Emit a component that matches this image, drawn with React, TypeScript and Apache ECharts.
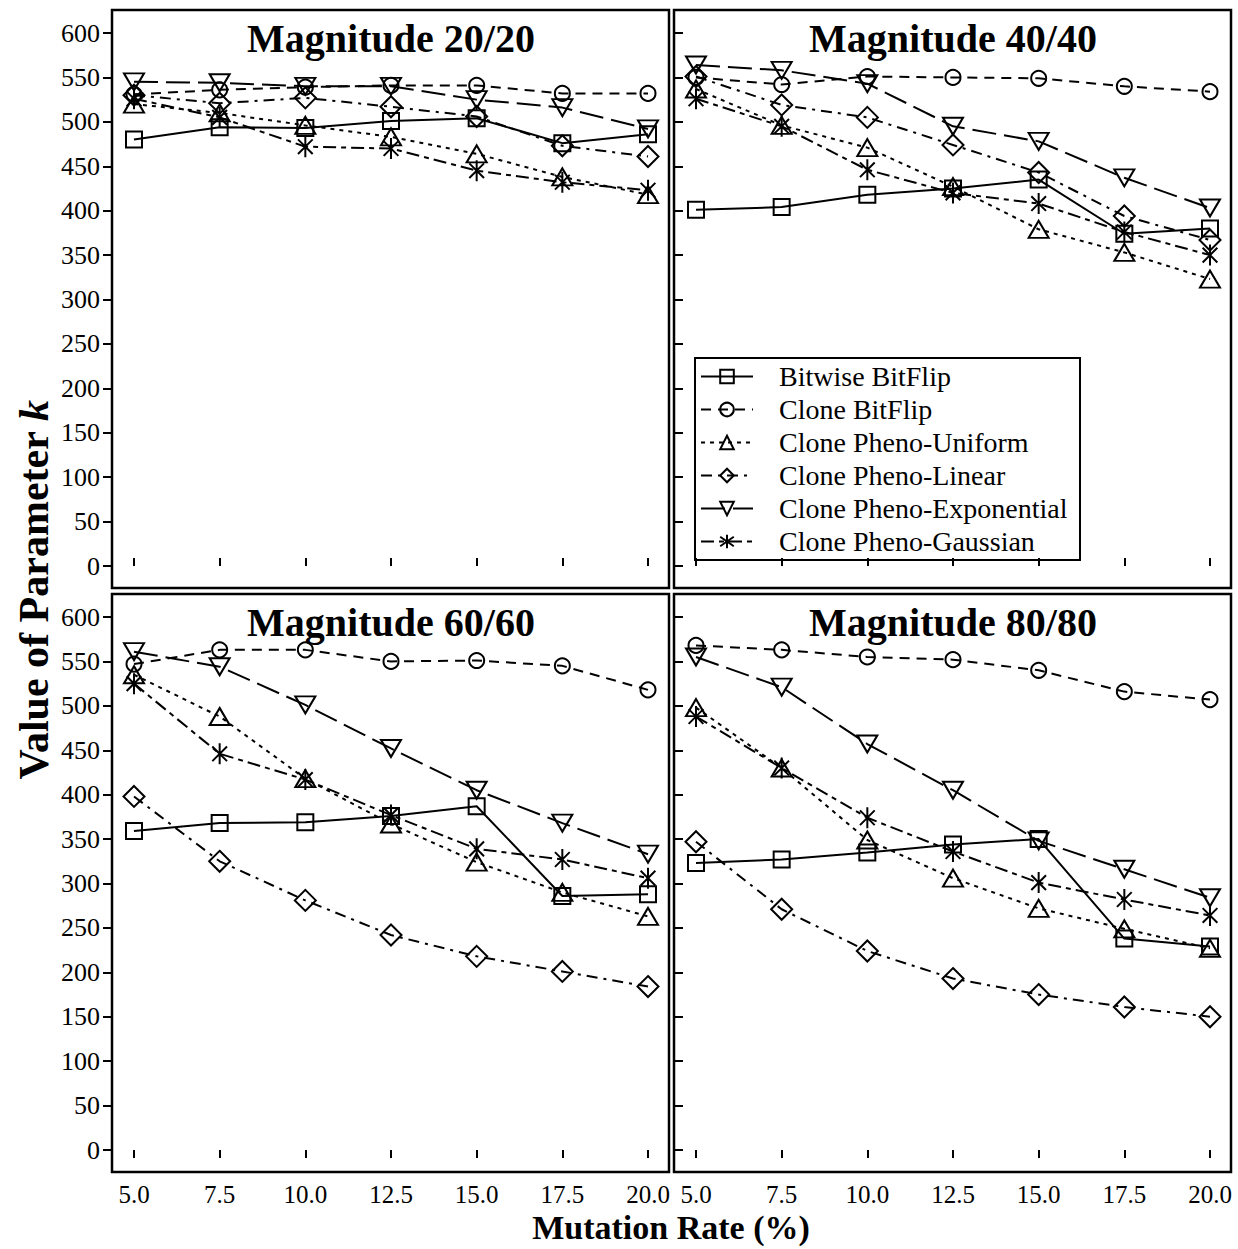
import React, { useEffect, useRef } from 'react';
import * as echarts from 'echarts';

const FONT = "'Liberation Serif', 'Times New Roman', Times, serif";

// Mutation rate categories (%)
const mutationRates = [5, 7.5, 10, 12.5, 15, 17.5, 20];

const seriesNames = [
  'Bitwise BitFlip',
  'Clone BitFlip',
  'Clone Pheno-Uniform',
  'Clone Pheno-Linear',
  'Clone Pheno-Exponential',
  'Clone Pheno-Gaussian',
];

const panelTitles = ['Magnitude 20/20', 'Magnitude 40/40', 'Magnitude 60/60', 'Magnitude 80/80'];

// Magnitude 20/20
const m20Bitwise = [480, 494, 493, 501, 504, 476, 486];
const m20CloneBitFlip = [531, 536, 539, 541, 541, 532, 532];
const m20Uniform = [520, 510, 496, 483, 464, 438, 418];
const m20Linear = [530, 521, 527, 517, 506, 473, 461];
const m20Exponential = [545, 544, 540, 540, 525, 516, 492];
const m20Gaussian = [526, 505, 472, 470, 445, 432, 423];

// Magnitude 40/40
const m40Bitwise = [401, 404, 418, 425, 435, 374, 380];
const m40CloneBitFlip = [550, 542, 551, 550, 549, 540, 534];
const m40Uniform = [537, 496, 471, 427, 379, 353, 323];
const m40Linear = [551, 519, 505, 474, 443, 394, 367];
const m40Exponential = [564, 558, 543, 495, 478, 437, 403];
const m40Gaussian = [526, 495, 446, 420, 408, 376, 350];

// Magnitude 60/60
const m60Bitwise = [359, 368, 369, 376, 387, 286, 288];
const m60CloneBitFlip = [547, 563, 563, 550, 551, 545, 518];
const m60Uniform = [535, 488, 418, 367, 324, 290, 263];
const m60Linear = [398, 325, 281, 242, 218, 201, 184];
const m60Exponential = [561, 544, 501, 452, 405, 368, 333];
const m60Gaussian = [525, 446, 417, 377, 339, 327, 306];

// Magnitude 80/80
const m80Bitwise = [323, 327, 335, 344, 350, 238, 229];
const m80CloneBitFlip = [568, 563, 555, 552, 540, 516, 507];
const m80Uniform = [498, 430, 349, 306, 272, 249, 227];
const m80Linear = [347, 271, 224, 193, 175, 161, 150];
const m80Exponential = [555, 521, 457, 405, 348, 316, 284];
const m80Gaussian = [488, 430, 374, 336, 301, 282, 264];

const panelValues = [
  [m20Bitwise, m20CloneBitFlip, m20Uniform, m20Linear, m20Exponential, m20Gaussian],
  [m40Bitwise, m40CloneBitFlip, m40Uniform, m40Linear, m40Exponential, m40Gaussian],
  [m60Bitwise, m60CloneBitFlip, m60Uniform, m60Linear, m60Exponential, m60Gaussian],
  [m80Bitwise, m80CloneBitFlip, m80Uniform, m80Linear, m80Exponential, m80Gaussian],
];

const STAR = 'path://M0,-10L0,10M-7,-7L7,7M-7,7L7,-7';

const seriesStyles: any[] = [
  { symbol: 'rect', size: 16, rotate: 0, dash: 'solid' },
  { symbol: 'circle', size: 15, rotate: 0, dash: [10, 7] },
  { symbol: 'triangle', size: [20, 17], rotate: 0, dash: [4, 5] },
  { symbol: 'diamond', size: 21, rotate: 0, dash: [11, 6, 3, 6] },
  { symbol: 'triangle', size: [20, 17], rotate: 180, dash: [24, 8] },
  { symbol: STAR, size: 21, rotate: 0, dash: [13, 5, 5, 5] },
];

const PW = 514;
const PH = 533;
const panelLayout = [
  { left: 134, top: 33, yLabels: true, xLabels: false },
  { left: 696, top: 33, yLabels: false, xLabels: false },
  { left: 134, top: 617, yLabels: true, xLabels: true },
  { left: 696, top: 617, yLabels: false, xLabels: true },
];

function buildOption() {
  const grid: any[] = [];
  const xAxis: any[] = [];
  const yAxis: any[] = [];
  const series: any[] = [];
  const graphic: any[] = [];

  panelLayout.forEach((p, pi) => {
    const boxX = p.left - 22;
    const boxY = p.top - 23;
    const boxW = 557;
    const boxH = 578;
    grid.push({ left: p.left, top: p.top, width: PW, height: PH });
    xAxis.push({
      gridIndex: pi,
      type: 'value',
      min: 5,
      max: 20,
      interval: 2.5,
      offset: boxY + boxH - (p.top + PH),
      axisLine: { show: false },
      splitLine: { show: false },
      axisTick: { show: true, inside: !p.xLabels, length: 8, lineStyle: { color: '#000', width: 2 } },
      axisLabel: {
        show: p.xLabels,
        formatter: (v: number) => v.toFixed(1),
        fontSize: 25,
        fontFamily: FONT,
        color: '#000',
        margin: 10,
      },
    });
    yAxis.push({
      gridIndex: pi,
      type: 'value',
      min: 0,
      max: 600,
      interval: 50,
      offset: p.left - boxX,
      axisLine: { show: false },
      splitLine: { show: false },
      axisTick: { show: true, inside: !p.yLabels, length: 9, lineStyle: { color: '#000', width: 2 } },
      axisLabel: {
        show: p.yLabels,
        fontSize: 26,
        fontFamily: FONT,
        color: '#000',
        margin: 12,
      },
    });
    graphic.push({
      type: 'rect',
      shape: { x: boxX, y: boxY, width: boxW, height: boxH },
      style: { fill: 'none', stroke: '#000', lineWidth: 2.5 },
      z: 10,
      silent: true,
    });
    graphic.push({
      type: 'text',
      x: p.left + PW / 2,
      y: p.top + 5,
      style: {
        text: panelTitles[pi],
        fontFamily: FONT,
        fontWeight: 'bold',
        fontSize: 40,
        fill: '#000',
        align: 'center',
        verticalAlign: 'middle',
      },
      z: 10,
    });

    panelValues[pi].forEach((vals, si) => {
      const st = seriesStyles[si];
      series.push({
        type: 'line',
        name: seriesNames[si],
        xAxisIndex: pi,
        yAxisIndex: pi,
        data: mutationRates.map((x, i) => [x, vals[i]]),
        symbol: st.symbol,
        symbolSize: st.size,
        symbolRotate: st.rotate,
        symbolKeepAspect: true,
        showSymbol: true,
        showAllSymbol: true,
        clip: false,
        lineStyle: { color: '#000', width: 2, type: st.dash },
        itemStyle: { color: 'transparent', borderColor: '#000', borderWidth: 2 },
        emphasis: { disabled: true },
        animation: false,
      });
    });
  });

  // Legend border
  graphic.push({
    type: 'rect',
    shape: { x: 695, y: 358, width: 385, height: 202 },
    style: { fill: 'none', stroke: '#000', lineWidth: 2 },
    z: 10,
    silent: true,
  });
  // Y axis title
  graphic.push({
    type: 'text',
    x: 34,
    y: 590,
    rotation: Math.PI / 2,
    style: {
      text: '{a|Value of Parameter }{b|k}',
      align: 'center',
      verticalAlign: 'middle',
      rich: {
        a: { fontFamily: FONT, fontWeight: 'bold', fontSize: 42, fill: '#000' },
        b: { fontFamily: FONT, fontWeight: 'bold', fontStyle: 'italic', fontSize: 42, fill: '#000' },
      },
    },
    z: 10,
  });
  // X axis title
  graphic.push({
    type: 'text',
    x: 671,
    y: 1227,
    style: {
      text: 'Mutation Rate (%)',
      fontFamily: FONT,
      fontWeight: 'bold',
      fontSize: 34,
      fill: '#000',
      align: 'center',
      verticalAlign: 'middle',
    },
    z: 10,
  });

  return {
    animation: false,
    backgroundColor: '#fff',
    grid,
    xAxis,
    yAxis,
    series,
    graphic,
    legend: {
      data: seriesNames,
      orient: 'vertical',
      left: 700,
      top: 360,
      padding: 0,
      itemGap: 0,
      itemWidth: 52,
      itemHeight: 17,
      selectedMode: false,
      textStyle: {
        fontFamily: FONT,
        fontSize: 28,
        color: '#000',
        lineHeight: 33,
        padding: [0, 0, 0, 21],
      },
    },
  };
}

export default function App() {
  const ref = useRef<HTMLDivElement>(null);
  useEffect(() => {
    document.body.style.margin = '0';
    if (!ref.current) return;
    const chart = echarts.init(ref.current, undefined, { renderer: 'svg' });
    chart.setOption(buildOption() as any);
    return () => chart.dispose();
  }, []);
  return <div ref={ref} style={{ width: 1238, height: 1249 }} />;
}
